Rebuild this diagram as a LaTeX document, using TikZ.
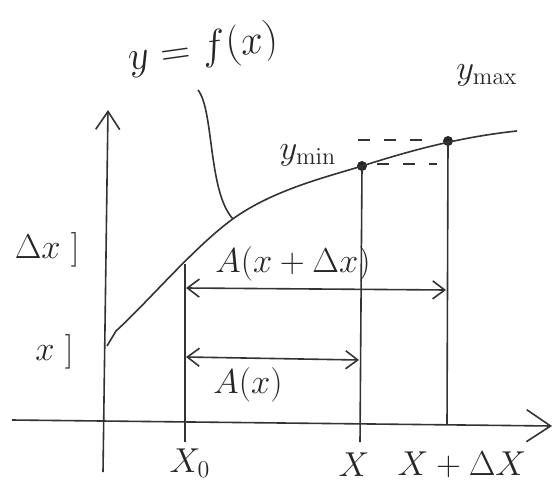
\documentclass[tikz,border=0pt]{standalone}
\usetikzlibrary{arrows.meta}
\begin{document}
\begin{tikzpicture}[x=0.5pt,y=-0.5pt,
  ln/.style={line width=0.8pt,draw=black!80},
  dim/.style={ln,{Straight Barb[length=6pt,width=9pt]}-{Straight Barb[length=6pt,width=9pt]}},
  lbl/.style={inner sep=0pt,font=\fontsize{17}{20}\selectfont,text=black!85},
  pt/.style={circle,fill=black!85,inner sep=0pt,minimum size=5pt},
  dsh/.style={ln,dash pattern=on 6pt off 7pt}]
\useasboundingbox (0,0) rectangle (555,486);
% axes
\coordinate (yb) at (103,472);
\coordinate (yt) at (108,110);
\coordinate (xl) at (12,420);
\coordinate (xr) at (552,426);
\draw[ln,-{Straight Barb[length=9pt,width=12pt]}] (yb) -- (yt);
\draw[ln,-{Straight Barb[length=12pt,width=16pt]}] (xl) -- (xr);
% curve
\coordinate (c0) at (107,346);
\coordinate (c1) at (116,331);
\coordinate (c2) at (240,214);
\coordinate (cend) at (517,131);
\coordinate (P0) at (185,264);
\coordinate (Pc) at (233,219);
\node[pt] (Pmin) at (362,166) {};
\node[pt] (Pmax) at (448,141) {};
\draw[ln] (c0) -- (c1) .. controls (150,300) and (200,240) .. (c2)
  .. controls (280,188) and (330,176) .. (Pmin.center)
  .. controls (394,156) and (450,138) .. (cend);
% verticals
\coordinate (B0) at (185,442);
\coordinate (B1) at (360,442);
\coordinate (B2) at (447,425);
\draw[ln] (P0) -- (B0);
\draw[ln] (Pmin.center) -- (B1);
\draw[ln] (Pmax.center) -- (B2);
% dimension arrows
\coordinate (a1l) at (186,288);
\coordinate (a1r) at (446,290);
\coordinate (a2l) at (186,357);
\coordinate (a2r) at (359,360);
\draw[dim] (a1l) -- (a1r);
\draw[dim] (a2l) -- (a2r);
% dashed levels
\coordinate (d1l) at (358,140);
\coordinate (d1r) at (436,140);
\coordinate (d2l) at (377,164);
\coordinate (d2r) at (437,164);
\draw[dsh] (d1l) -- (d1r);
\draw[dsh] (d2l) -- (d2r);
% labels
\node[lbl,rotate=8,font=\fontsize{20}{24}\selectfont] (fx) at (203,50) {$y=f(x)$};
\coordinate (ptr) at (198,90);
\draw[ln] (ptr) .. controls (214,110) and (208,192) .. (Pc);
\node[lbl] (ymin) at (308,155) {$y_{\min}$};
\node[lbl] (ymax) at (487,75) {$y_{\max}$};
\node[lbl] (Axdx) at (293,264) {$A(x+\Delta x)$};
\node[lbl] (Ax) at (248,385) {$A(x)$};
\node[lbl] (X0) at (190,463) {$X_0$};
\node[lbl] (X) at (354,465) {$X$};
\node[lbl] (XdX) at (462,465) {$X+\Delta X$};
\node[lbl,anchor=east] (L1) at (80,250) {$\Delta x\ ]$};
\node[lbl,anchor=east] (L2) at (74,352) {$x\ ]$};
\end{tikzpicture}
\end{document}
